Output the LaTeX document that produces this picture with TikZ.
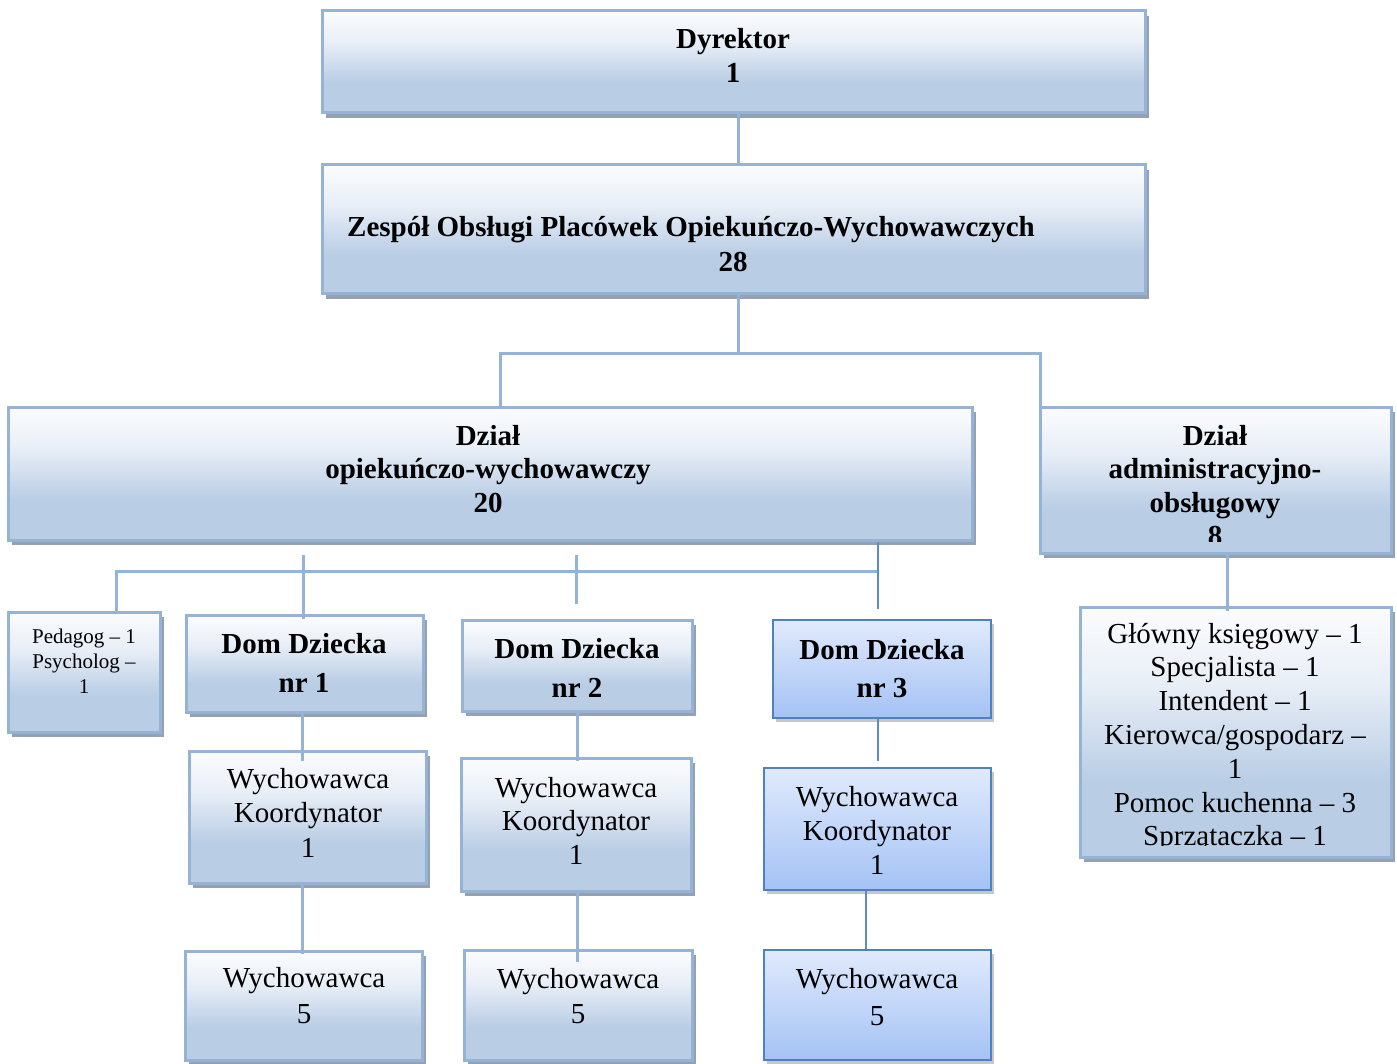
\documentclass[tikz,border=0pt]{standalone}
\usepackage{fontspec}
\setmainfont{Liberation Serif}
\usetikzlibrary{shadows,calc}
\definecolor{lineC}{HTML}{95B3D7}
\definecolor{shadowC}{HTML}{95A1B1}
\definecolor{topC}{HTML}{FBFCFE}
\definecolor{midC}{HTML}{E9EFF7}
\definecolor{botC}{HTML}{B9CDE5}
\definecolor{topB}{HTML}{E0EAFC}
\definecolor{botB}{HTML}{A4C2F5}
\definecolor{borderB}{HTML}{4F81BD}
\definecolor{connB}{HTML}{5B8CC8}
\pgfdeclareverticalshading{grayblue}{100bp}{color(0bp)=(botC); color(25bp)=(botC); color(40bp)=(botC); color(60bp)=(midC); color(75bp)=(topC); color(100bp)=(topC)}
\pgfdeclareverticalshading{bluesh}{100bp}{color(0bp)=(botB); color(25bp)=(botB); color(75bp)=(topB); color(100bp)=(topB)}
\newcommand\bfnt{\fontsize{29}{34}\selectfont\bfseries}
\newcommand\rfnt{\fontsize{29}{34}\selectfont}
\newcommand\sfnt{\fontsize{21}{25}\selectfont}
% box: style, name, left, top, right, bottom
\newcommand\bx[6]{\node[#1, minimum width={(#5)-(#3)}, minimum height={(#6)-(#4)}] (#2) at ({((#3)+(#5))/2},{((#4)+(#6))/2}) {};}
% text lines: name, x, first baseline, step, font, lines
\newcommand\txtlines[6]{\foreach \tline [count=\i from 1] in {#6} {\node[txtn,font=#5] (#1-\i) at (#2,{#3+(\i-1)*#4}) {\tline};}}
\tikzset{
  box/.style={draw=lineC, line width=3pt, shading=grayblue, inner sep=0pt,
    drop shadow={shadow xshift=4pt, shadow yshift=-5pt, fill=shadowC, opacity=1}},
  bbox/.style={draw=borderB, line width=2.5pt, shading=bluesh, inner sep=0pt,
    drop shadow={shadow xshift=3pt, shadow yshift=-4pt, fill=black, opacity=0.22}},
  txtn/.style={anchor=base, inner sep=0pt, text=black},
  conn/.style={draw=lineC, line width=3pt},
  connD/.style={draw=connB, line width=2pt},
}
\begin{document}
\begin{tikzpicture}[x=1pt,y=-1pt]
\fill[white] (0,0) rectangle (1397,1064);
\useasboundingbox (0,0) rectangle (1397,1064);

% boxes
\bx{box}{dyr}{322}{11}{1145}{113}
\bx{box}{zes}{322}{165}{1145}{294}
\bx{box}{dzo}{8}{407}{972}{540}
\bx{box}{dza}{1040}{407}{1391}{553}
\bx{box}{ped}{8}{612}{160}{732}
\bx{box}{dom1}{186}{615}{423}{712}
\bx{box}{dom2}{462}{620}{692}{711}
\bx{bbox}{dom3}{773}{620}{991}{718}
\bx{box}{ko1}{189}{751}{426}{883}
\bx{box}{ko2}{461}{758}{691}{891}
\bx{bbox}{ko3}{764}{768}{991}{890}
\bx{box}{wy1}{185}{951}{422}{1060}
\bx{box}{wy2}{464}{950}{692}{1060}
\bx{bbox}{wy3}{764}{950}{991}{1060}
\bx{box}{adl}{1080}{607}{1391}{857}

% texts
\txtlines{dyrT}{733}{49}{34}{\bfnt}{Dyrektor,1}
\txtlines{zesT}{691}{237}{34}{\bfnt}{Zespół Obsługi Placówek Opiekuńczo-Wychowawczych}
\txtlines{zesN}{733}{272}{34}{\bfnt}{28}
\txtlines{dzoT}{488}{445}{33.5}{\bfnt}{Dział,opiekuńczo-wychowawczy,20}
\begin{scope}
\clip (1042,409) rectangle (1389,541);
\txtlines{dzaT}{1215}{445}{33.5}{\bfnt}{Dział,administracyjno-,obsługowy,8}
\end{scope}
\txtlines{pedT}{84}{643}{25}{\sfnt}{Pedagog – 1,Psycholog –,1}
\txtlines{dom1T}{304}{653}{39}{\bfnt}{Dom Dziecka,nr 1}
\txtlines{dom2T}{577}{658}{39}{\bfnt}{Dom Dziecka,nr 2}
\txtlines{dom3T}{882}{659}{38}{\bfnt}{Dom Dziecka,nr 3}
\txtlines{ko1T}{308}{788}{34.5}{\rfnt}{Wychowawca,Koordynator,1}
\txtlines{ko2T}{576}{797}{33.5}{\rfnt}{Wychowawca,Koordynator,1}
\txtlines{ko3T}{877}{806}{34}{\rfnt}{Wychowawca,Koordynator,1}
\txtlines{wy1T}{304}{987}{36}{\rfnt}{Wychowawca,5}
\txtlines{wy2T}{578}{988}{35}{\rfnt}{Wychowawca,5}
\txtlines{wy3T}{877}{988}{37}{\rfnt}{Wychowawca,5}
\begin{scope}
\clip (1082,609) rectangle (1389,845);
\txtlines{adlT}{1235}{643}{33.8}{\rfnt}{Główny księgowy – 1,Specjalista – 1,Intendent – 1,Kierowca/gospodarz –,1,Pomoc kuchenna – 3,Sprzątaczka – 1}
\end{scope}

% connector x positions
\coordinate (c738) at (738,0);
\coordinate (c500) at (500,0);
\coordinate (c1040) at (1040,0);
\coordinate (c116) at (116,0);
\coordinate (c303) at (303,0);
\coordinate (c302) at (302,0);
\coordinate (c576) at (576,0);
\coordinate (c577) at (577,0);
\coordinate (c878) at (878,0);
\coordinate (c866) at (866,0);
\coordinate (c1227) at (1227,0);
\coordinate (hubA) at (738,354);
\coordinate (hubB) at (878,571);

% connectors
\draw[conn] (c738 |- dyr.south) -- (c738 |- zes.north);
\draw[conn] (c738 |- zes.south) -- (hubA);
\draw[conn] (c500 |- dzo.north) |- (hubA) -| (c1040 |- dza.north);
\draw[conn] (c116 |- ped.north) |- (hubB);
\draw[conn, shorten <=13pt, shorten >=-5pt] (c303 |- dzo.south) -- (c303 |- dom1.north);
\draw[conn, shorten <=13pt, shorten >=15pt] (c576 |- dzo.south) -- (c576 |- dom2.north);
\draw[connD, shorten >=10pt] (c878 |- dzo.south) -- (c878 |- dom3.north);
\draw[conn, shorten >=-11pt] (c302 |- dom1.south) -- (c302 |- ko1.north);
\draw[conn, shorten >=-4pt] (c577 |- dom2.south) -- (c577 |- ko2.north);
\draw[connD, shorten >=6pt] (c878 |- dom3.south) -- (c878 |- ko3.north);
\draw[conn, shorten >=-4pt] (c302 |- ko1.south) -- (c302 |- wy1.north);
\draw[conn, shorten >=-13pt] (c577 |- ko2.south) -- (c577 |- wy2.north);
\draw[connD] (c866 |- ko3.south) -- (c866 |- wy3.north);
\draw[conn, shorten >=-5pt] (c1227 |- dza.south) -- (c1227 |- adl.north);
\end{tikzpicture}
\end{document}
